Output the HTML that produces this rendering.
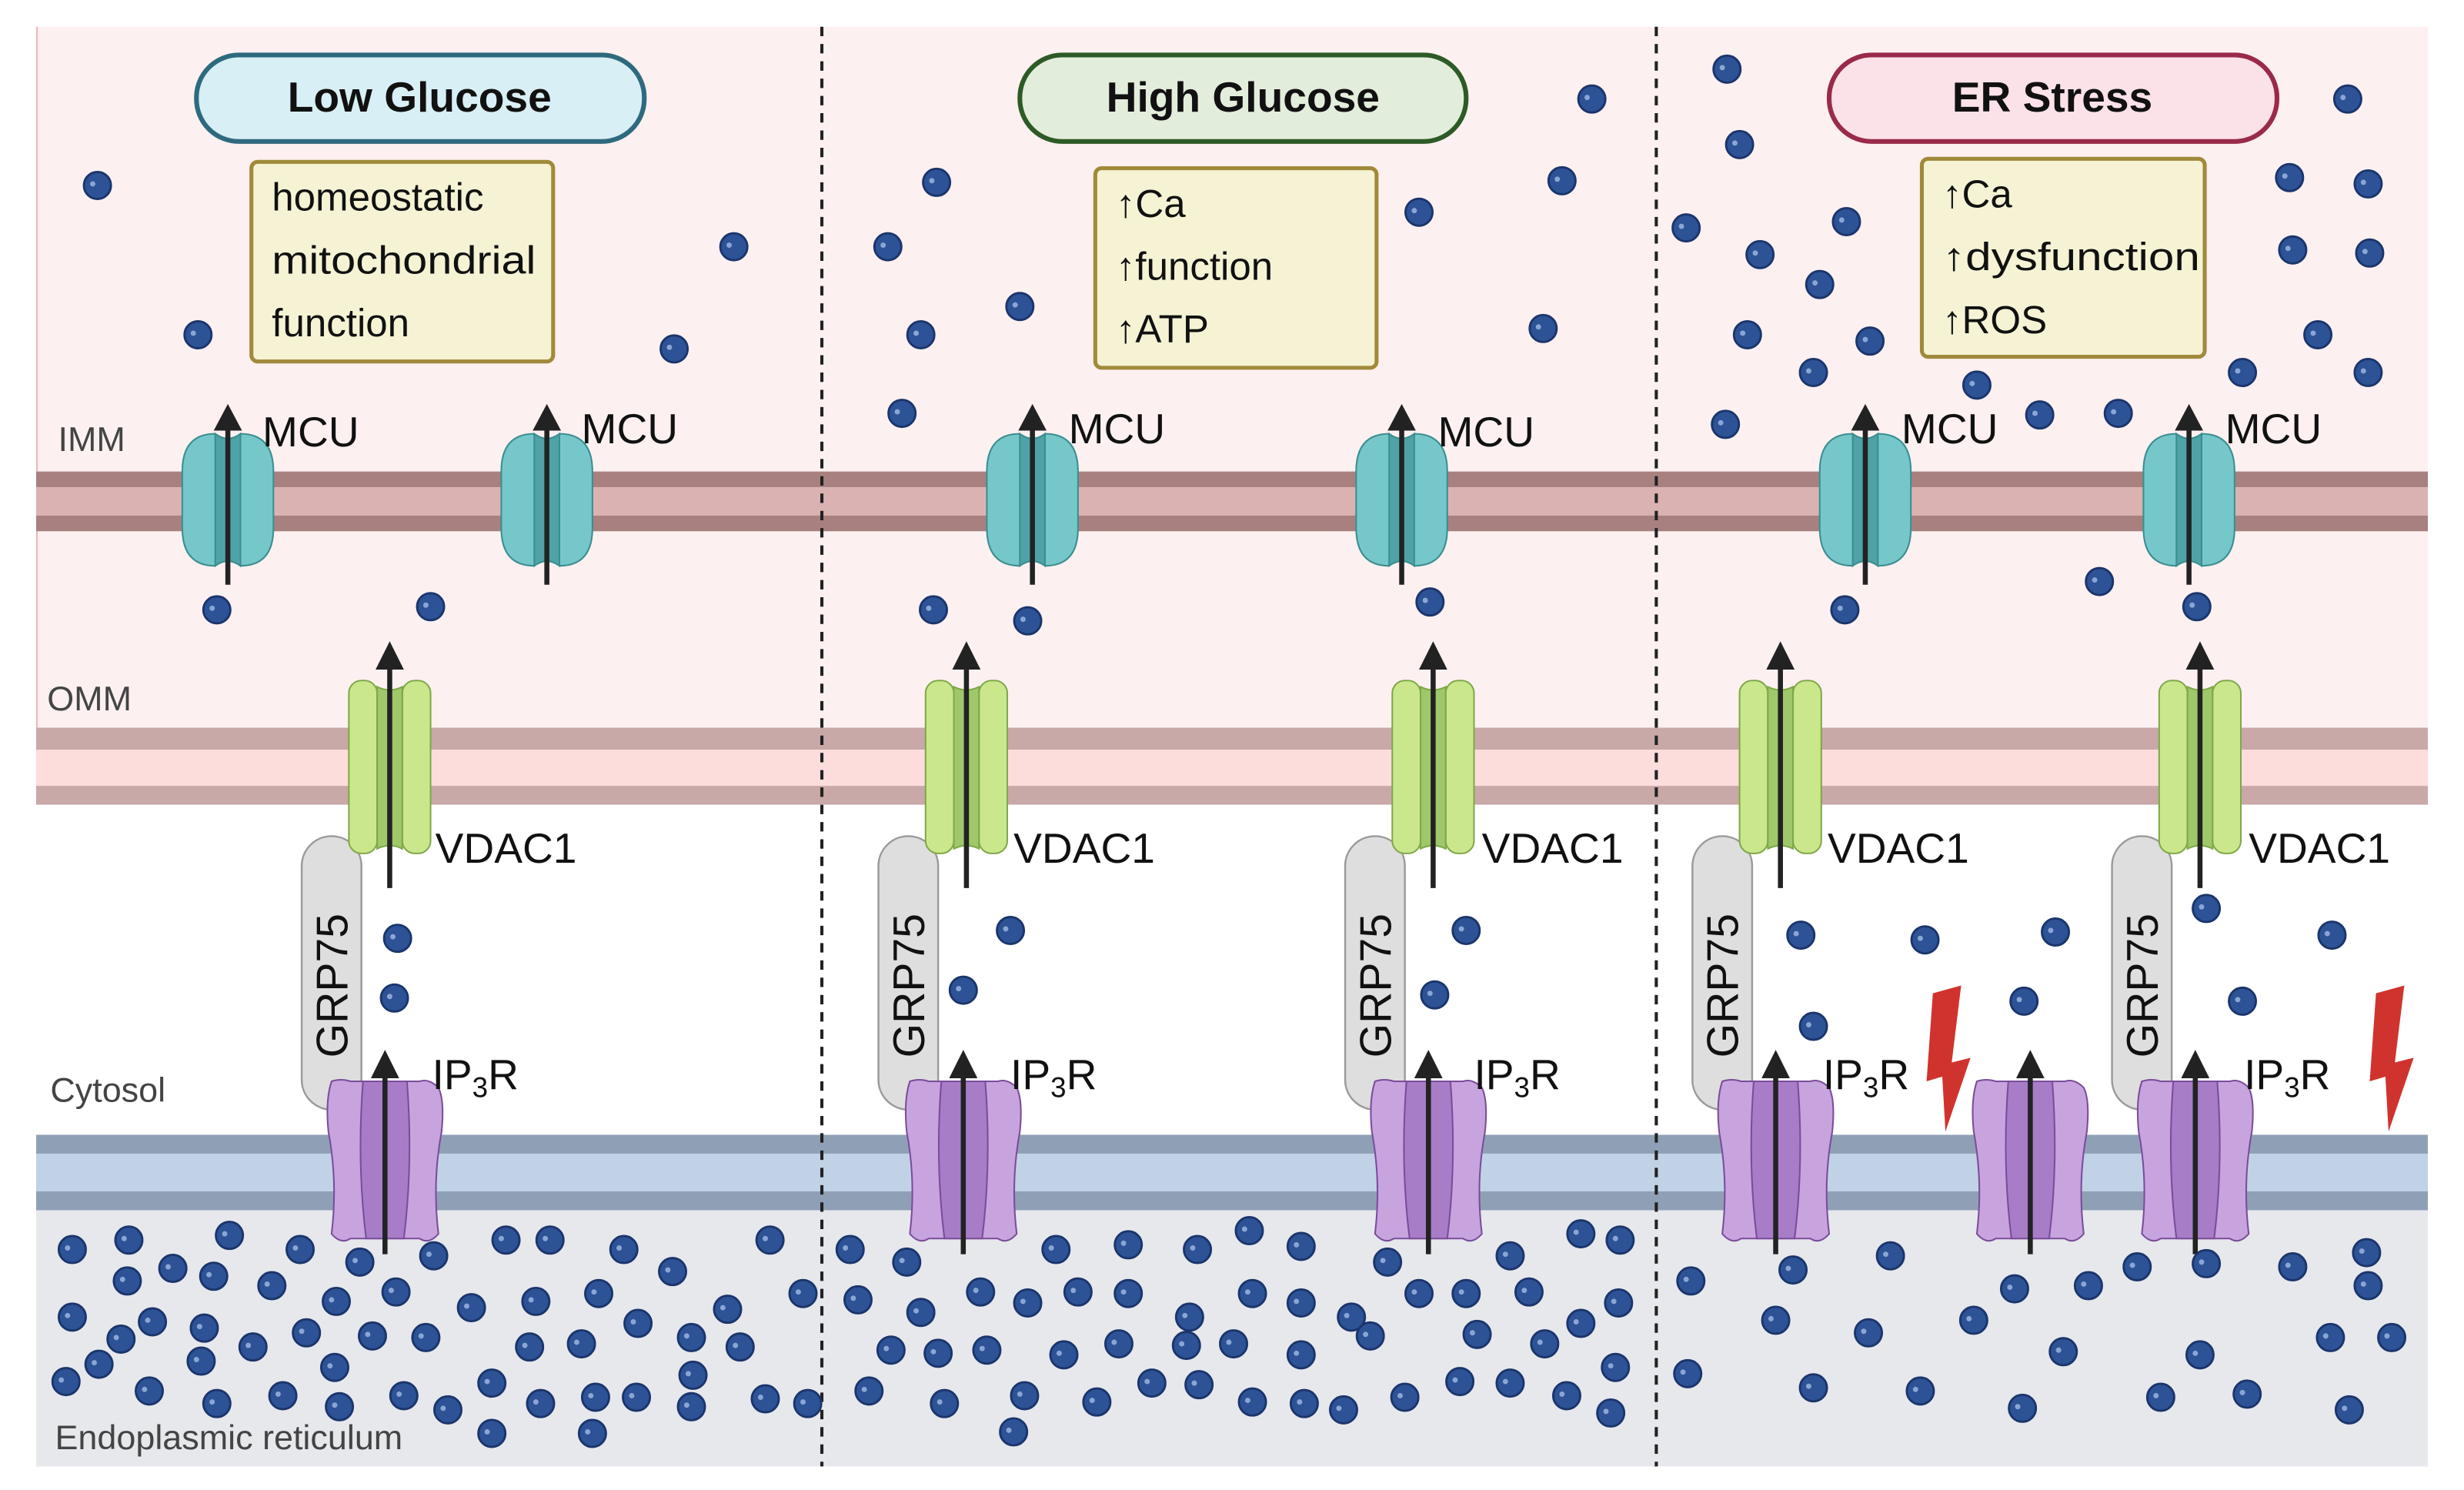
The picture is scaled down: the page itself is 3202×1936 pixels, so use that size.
<!DOCTYPE html>
<html><head><meta charset="utf-8">
<style>html,body{margin:0;padding:0;background:#fff}svg{display:block}
text{font-family:"Liberation Sans",sans-serif}</style></head>
<body>
<svg width="3202" height="1936" viewBox="0 0 1568 948" preserveAspectRatio="none" xmlns="http://www.w3.org/2000/svg" xmlns:xlink="http://www.w3.org/1999/xlink">
<defs>
<g id="d"><circle r="8.6" fill="#2d5296" stroke="#1b356b" stroke-width="1.4"/><circle cx="-3" cy="-1" r="1.7" fill="#8aa6d4"/></g>
<g id="mcu">
<path d="M-29,300 Q-29,276 -8,276 Q0,282 8,276 Q29,276 29,300 L29,336 Q29,360 8,360 Q0,354 -8,360 Q-29,360 -29,336 Z" fill="#75c7c9" stroke="#3b8e90" stroke-width="1"/>
<path d="M-8,276 Q0,282 8,276 L8,360 Q0,354 -8,360 Z" fill="#4fa3a6" stroke="#3b8e90" stroke-width="1"/>
<line x1="0" y1="372" x2="0" y2="272" stroke="#222" stroke-width="3.2"/>
<polygon points="-9,274 9,274 0,257" fill="#222"/>
</g>
<g id="vdac">
<rect x="-26" y="433" width="18" height="110" rx="8" fill="#cbe78c" stroke="#7fa84a" stroke-width="1"/>
<rect x="8" y="433" width="18" height="110" rx="8" fill="#cbe78c" stroke="#7fa84a" stroke-width="1"/>
<path d="M-8,437 Q0,441 8,437 L8,540 Q0,536 -8,540 Z" fill="#a0c86a" stroke="#7fa84a" stroke-width="1"/>
<line x1="0" y1="565" x2="0" y2="424" stroke="#222" stroke-width="3.2"/>
<polygon points="-9,426 9,426 0,408" fill="#222"/>
</g>
<g id="ip3r">
<path d="M-34,688 Q-28,686 -22,688 L22,688 Q28,686 34,692 Q38,700 36,720 Q30,752 34,785 Q28,792 22,788 L-22,788 Q-28,792 -34,785 Q-30,752 -36,720 Q-38,700 -34,688 Z" fill="#c7a4dd" stroke="#7a4c9a" stroke-width="1"/>
<path d="M-14,688 Q-18,740 -12,788 L12,788 Q18,740 14,688 Z" fill="#a77dc7" stroke="#7a4c9a" stroke-width="1"/>
<line x1="0" y1="798" x2="0" y2="684" stroke="#222" stroke-width="3.2"/>
<polygon points="-9,686 9,686 0,668" fill="#222"/>
</g>
<g id="grp">
<rect x="-19" y="532" width="38" height="174" rx="19" fill="#dedede" stroke="#9a9a9a" stroke-width="1.2"/>
</g>
<polygon id="bolt" points="-10,632 8,627 2,676 14,673 -2,720 -4,685 -14,688" fill="#d0332d"/>
</defs>

<!-- backgrounds -->
<rect x="23" y="17" width="1522" height="495" fill="#fdf0f0"/>
<line x1="23.5" y1="17" x2="23.5" y2="512" stroke="#e8b8bc" stroke-width="1"/>
<rect x="23" y="300" width="1522" height="10" fill="#a98080"/>
<rect x="23" y="310" width="1522" height="18" fill="#dbb2b2"/>
<rect x="23" y="328" width="1522" height="10" fill="#a98080"/>
<rect x="23" y="463" width="1522" height="14" fill="#c9a8a8"/>
<rect x="23" y="477" width="1522" height="23" fill="#fddcdc"/>
<rect x="23" y="500" width="1522" height="12" fill="#c9a8a8"/>
<rect x="23" y="512" width="1522" height="210" fill="#ffffff"/>
<rect x="23" y="722" width="1522" height="12" fill="#8fa0b6"/>
<rect x="23" y="734" width="1522" height="24" fill="#c1d2e6"/>
<rect x="23" y="758" width="1522" height="12" fill="#8fa0b6"/>
<rect x="23" y="770" width="1522" height="163" fill="#e6e8ec"/>

<!-- dividers -->
<line x1="523" y1="17" x2="523" y2="933" stroke="#222" stroke-width="2" stroke-dasharray="6,5"/>
<line x1="1054" y1="17" x2="1054" y2="933" stroke="#222" stroke-width="2" stroke-dasharray="6,5"/>

<!-- region labels -->
<g fill="#444" font-size="22">
<text x="37" y="287">IMM</text>
<text x="30" y="452">OMM</text>
<text x="32" y="701">Cytosol</text>
<text x="35" y="922">Endoplasmic reticulum</text>
</g>

<!-- titles -->
<rect x="125" y="35" width="285" height="55" rx="27" fill="#d8eff5" stroke="#2e6a7e" stroke-width="3"/>
<text x="267" y="71" font-size="27" font-weight="bold" text-anchor="middle" fill="#111">Low Glucose</text>
<rect x="649" y="35" width="284" height="55" rx="27" fill="#e3eddb" stroke="#2d5a26" stroke-width="3"/>
<text x="791" y="71" font-size="27" font-weight="bold" text-anchor="middle" fill="#111">High Glucose</text>
<rect x="1164" y="35" width="285" height="55" rx="27" fill="#fbe1e8" stroke="#992a4a" stroke-width="3"/>
<text x="1306" y="71" font-size="27" font-weight="bold" text-anchor="middle" fill="#111">ER Stress</text>

<!-- info boxes -->
<g font-size="25" fill="#111">
<rect x="160" y="103" width="192" height="127" rx="4" fill="#f5f3d4" stroke="#a08a3a" stroke-width="2.5"/>
<text x="173" y="134">homeostatic</text>
<text x="173" y="174" textLength="168" lengthAdjust="spacingAndGlyphs">mitochondrial</text>
<text x="173" y="214">function</text>
<rect x="697" y="107" width="179" height="127" rx="4" fill="#f5f3d4" stroke="#a08a3a" stroke-width="2.5"/>
<text x="710" y="138">↑Ca</text>
<text x="710" y="178">↑function</text>
<text x="710" y="218">↑ATP</text>
<rect x="1223" y="101" width="180" height="126" rx="4" fill="#f5f3d4" stroke="#a08a3a" stroke-width="2.5"/>
<text x="1236" y="132">↑Ca</text>
<text x="1236" y="172" textLength="164" lengthAdjust="spacingAndGlyphs">↑dysfunction</text>
<text x="1236" y="212">↑ROS</text>
</g>

<!-- proteins -->
<use xlink:href="#mcu" x="145"/><use xlink:href="#mcu" x="348"/>
<use xlink:href="#mcu" x="657"/><use xlink:href="#mcu" x="892"/>
<use xlink:href="#mcu" x="1187"/><use xlink:href="#mcu" x="1393"/>

<use xlink:href="#grp" x="211"/><use xlink:href="#grp" x="578"/><use xlink:href="#grp" x="875"/>
<use xlink:href="#grp" x="1096"/><use xlink:href="#grp" x="1363"/>

<use xlink:href="#vdac" x="248"/><use xlink:href="#vdac" x="615"/><use xlink:href="#vdac" x="912"/>
<use xlink:href="#vdac" x="1133"/><use xlink:href="#vdac" x="1400"/>

<use xlink:href="#ip3r" x="245"/><use xlink:href="#ip3r" x="613"/><use xlink:href="#ip3r" x="909"/>
<use xlink:href="#ip3r" x="1130"/><use xlink:href="#ip3r" x="1292"/><use xlink:href="#ip3r" x="1397"/>

<use xlink:href="#bolt" x="1240"/><use xlink:href="#bolt" x="1522"/>

<g font-size="27" fill="#111">
<text x="167" y="284">MCU</text><text x="370" y="282">MCU</text>
<text x="680" y="282">MCU</text><text x="915" y="284">MCU</text>
<text x="1210" y="282">MCU</text><text x="1416" y="282">MCU</text>
<text x="277" y="549">VDAC1</text><text x="645" y="549">VDAC1</text><text x="943" y="549">VDAC1</text>
<text x="1163" y="549">VDAC1</text><text x="1431" y="549">VDAC1</text>
<text x="275" y="693">IP<tspan font-size="18" dy="5">3</tspan><tspan dy="-5">R</tspan></text>
<text x="643" y="693">IP<tspan font-size="18" dy="5">3</tspan><tspan dy="-5">R</tspan></text>
<text x="938" y="693">IP<tspan font-size="18" dy="5">3</tspan><tspan dy="-5">R</tspan></text>
<text x="1160" y="693">IP<tspan font-size="18" dy="5">3</tspan><tspan dy="-5">R</tspan></text>
<text x="1428" y="693">IP<tspan font-size="18" dy="5">3</tspan><tspan dy="-5">R</tspan></text>
<g font-size="28">
<text transform="translate(221,673) rotate(-90)">GRP75</text>
<text transform="translate(588,673) rotate(-90)">GRP75</text>
<text transform="translate(885,673) rotate(-90)">GRP75</text>
<text transform="translate(1106,673) rotate(-90)">GRP75</text>
<text transform="translate(1373,673) rotate(-90)">GRP75</text>
</g>
</g>

<!-- dots panel 1 -->
<use xlink:href="#d" x="62" y="118"/><use xlink:href="#d" x="126" y="213"/><use xlink:href="#d" x="467" y="157"/><use xlink:href="#d" x="429" y="222"/><use xlink:href="#d" x="138" y="388"/><use xlink:href="#d" x="274" y="386"/><use xlink:href="#d" x="253" y="597"/><use xlink:href="#d" x="251" y="635"/>
<use xlink:href="#d" x="46" y="795"/><use xlink:href="#d" x="82" y="789"/><use xlink:href="#d" x="146" y="786"/><use xlink:href="#d" x="191" y="795"/><use xlink:href="#d" x="110" y="807"/><use xlink:href="#d" x="136" y="812"/><use xlink:href="#d" x="81" y="815"/><use xlink:href="#d" x="229" y="803"/><use xlink:href="#d" x="276" y="799"/><use xlink:href="#d" x="322" y="789"/><use xlink:href="#d" x="350" y="789"/><use xlink:href="#d" x="397" y="795"/><use xlink:href="#d" x="428" y="809"/><use xlink:href="#d" x="490" y="789"/><use xlink:href="#d" x="46" y="838"/><use xlink:href="#d" x="97" y="841"/><use xlink:href="#d" x="130" y="845"/><use xlink:href="#d" x="173" y="818"/><use xlink:href="#d" x="214" y="828"/><use xlink:href="#d" x="252" y="822"/><use xlink:href="#d" x="300" y="832"/><use xlink:href="#d" x="341" y="828"/><use xlink:href="#d" x="381" y="823"/><use xlink:href="#d" x="406" y="842"/><use xlink:href="#d" x="463" y="833"/><use xlink:href="#d" x="511" y="823"/><use xlink:href="#d" x="77" y="852"/><use xlink:href="#d" x="128" y="866"/><use xlink:href="#d" x="161" y="857"/><use xlink:href="#d" x="195" y="848"/><use xlink:href="#d" x="237" y="850"/><use xlink:href="#d" x="271" y="851"/><use xlink:href="#d" x="337" y="857"/><use xlink:href="#d" x="370" y="855"/><use xlink:href="#d" x="440" y="851"/><use xlink:href="#d" x="471" y="857"/><use xlink:href="#d" x="42" y="879"/><use xlink:href="#d" x="63" y="868"/><use xlink:href="#d" x="95" y="885"/><use xlink:href="#d" x="138" y="893"/><use xlink:href="#d" x="180" y="888"/><use xlink:href="#d" x="213" y="870"/><use xlink:href="#d" x="257" y="888"/><use xlink:href="#d" x="216" y="895"/><use xlink:href="#d" x="285" y="897"/><use xlink:href="#d" x="313" y="880"/><use xlink:href="#d" x="344" y="893"/><use xlink:href="#d" x="379" y="889"/><use xlink:href="#d" x="405" y="889"/><use xlink:href="#d" x="441" y="875"/><use xlink:href="#d" x="487" y="890"/><use xlink:href="#d" x="514" y="893"/><use xlink:href="#d" x="313" y="912"/><use xlink:href="#d" x="377" y="912"/><use xlink:href="#d" x="440" y="895"/>
<!-- dots panel 2 -->
<use xlink:href="#d" x="596" y="116"/><use xlink:href="#d" x="565" y="157"/><use xlink:href="#d" x="649" y="195"/><use xlink:href="#d" x="586" y="213"/><use xlink:href="#d" x="574" y="263"/><use xlink:href="#d" x="1013" y="63"/><use xlink:href="#d" x="994" y="115"/><use xlink:href="#d" x="903" y="135"/><use xlink:href="#d" x="982" y="209"/><use xlink:href="#d" x="594" y="388"/><use xlink:href="#d" x="654" y="395"/><use xlink:href="#d" x="910" y="383"/><use xlink:href="#d" x="643" y="592"/><use xlink:href="#d" x="613" y="630"/><use xlink:href="#d" x="933" y="592"/><use xlink:href="#d" x="913" y="633"/>
<use xlink:href="#d" x="541" y="795"/><use xlink:href="#d" x="577" y="803"/><use xlink:href="#d" x="672" y="795"/><use xlink:href="#d" x="718" y="792"/><use xlink:href="#d" x="762" y="795"/><use xlink:href="#d" x="795" y="783"/><use xlink:href="#d" x="828" y="793"/><use xlink:href="#d" x="883" y="803"/><use xlink:href="#d" x="961" y="799"/><use xlink:href="#d" x="1006" y="785"/><use xlink:href="#d" x="1031" y="789"/><use xlink:href="#d" x="546" y="827"/><use xlink:href="#d" x="586" y="835"/><use xlink:href="#d" x="624" y="822"/><use xlink:href="#d" x="654" y="829"/><use xlink:href="#d" x="686" y="822"/><use xlink:href="#d" x="718" y="823"/><use xlink:href="#d" x="757" y="838"/><use xlink:href="#d" x="797" y="823"/><use xlink:href="#d" x="828" y="829"/><use xlink:href="#d" x="860" y="838"/><use xlink:href="#d" x="903" y="823"/><use xlink:href="#d" x="933" y="823"/><use xlink:href="#d" x="973" y="822"/><use xlink:href="#d" x="1030" y="829"/><use xlink:href="#d" x="567" y="859"/><use xlink:href="#d" x="597" y="861"/><use xlink:href="#d" x="628" y="859"/><use xlink:href="#d" x="677" y="862"/><use xlink:href="#d" x="712" y="855"/><use xlink:href="#d" x="755" y="856"/><use xlink:href="#d" x="785" y="855"/><use xlink:href="#d" x="828" y="862"/><use xlink:href="#d" x="872" y="850"/><use xlink:href="#d" x="940" y="849"/><use xlink:href="#d" x="983" y="855"/><use xlink:href="#d" x="1006" y="842"/><use xlink:href="#d" x="1028" y="870"/><use xlink:href="#d" x="553" y="885"/><use xlink:href="#d" x="601" y="893"/><use xlink:href="#d" x="652" y="888"/><use xlink:href="#d" x="698" y="892"/><use xlink:href="#d" x="733" y="880"/><use xlink:href="#d" x="763" y="881"/><use xlink:href="#d" x="797" y="892"/><use xlink:href="#d" x="830" y="893"/><use xlink:href="#d" x="855" y="897"/><use xlink:href="#d" x="894" y="889"/><use xlink:href="#d" x="929" y="879"/><use xlink:href="#d" x="961" y="880"/><use xlink:href="#d" x="997" y="888"/><use xlink:href="#d" x="1025" y="899"/><use xlink:href="#d" x="645" y="911"/>
<!-- dots panel 3 -->
<use xlink:href="#d" x="1099" y="44"/><use xlink:href="#d" x="1107" y="92"/><use xlink:href="#d" x="1073" y="145"/><use xlink:href="#d" x="1120" y="162"/><use xlink:href="#d" x="1175" y="141"/><use xlink:href="#d" x="1158" y="181"/><use xlink:href="#d" x="1112" y="213"/><use xlink:href="#d" x="1190" y="217"/><use xlink:href="#d" x="1154" y="237"/><use xlink:href="#d" x="1098" y="270"/><use xlink:href="#d" x="1258" y="245"/><use xlink:href="#d" x="1298" y="264"/><use xlink:href="#d" x="1348" y="263"/><use xlink:href="#d" x="1427" y="237"/><use xlink:href="#d" x="1494" y="63"/><use xlink:href="#d" x="1457" y="113"/><use xlink:href="#d" x="1507" y="117"/><use xlink:href="#d" x="1459" y="159"/><use xlink:href="#d" x="1508" y="161"/><use xlink:href="#d" x="1475" y="213"/><use xlink:href="#d" x="1507" y="237"/><use xlink:href="#d" x="1174" y="388"/><use xlink:href="#d" x="1336" y="370"/><use xlink:href="#d" x="1398" y="386"/>
<use xlink:href="#d" x="1146" y="595"/><use xlink:href="#d" x="1225" y="598"/><use xlink:href="#d" x="1308" y="593"/><use xlink:href="#d" x="1154" y="653"/><use xlink:href="#d" x="1288" y="637"/><use xlink:href="#d" x="1404" y="578"/><use xlink:href="#d" x="1484" y="595"/><use xlink:href="#d" x="1427" y="637"/>
<use xlink:href="#d" x="1076" y="815"/><use xlink:href="#d" x="1141" y="808"/><use xlink:href="#d" x="1203" y="799"/><use xlink:href="#d" x="1130" y="840"/><use xlink:href="#d" x="1189" y="848"/><use xlink:href="#d" x="1256" y="840"/><use xlink:href="#d" x="1282" y="820"/><use xlink:href="#d" x="1329" y="818"/><use xlink:href="#d" x="1360" y="806"/><use xlink:href="#d" x="1404" y="804"/><use xlink:href="#d" x="1459" y="806"/><use xlink:href="#d" x="1506" y="797"/><use xlink:href="#d" x="1507" y="818"/><use xlink:href="#d" x="1313" y="860"/><use xlink:href="#d" x="1400" y="862"/><use xlink:href="#d" x="1483" y="851"/><use xlink:href="#d" x="1522" y="851"/><use xlink:href="#d" x="1074" y="874"/><use xlink:href="#d" x="1154" y="883"/><use xlink:href="#d" x="1222" y="885"/><use xlink:href="#d" x="1287" y="896"/><use xlink:href="#d" x="1375" y="889"/><use xlink:href="#d" x="1430" y="887"/><use xlink:href="#d" x="1495" y="897"/>
</svg>
</body></html>
